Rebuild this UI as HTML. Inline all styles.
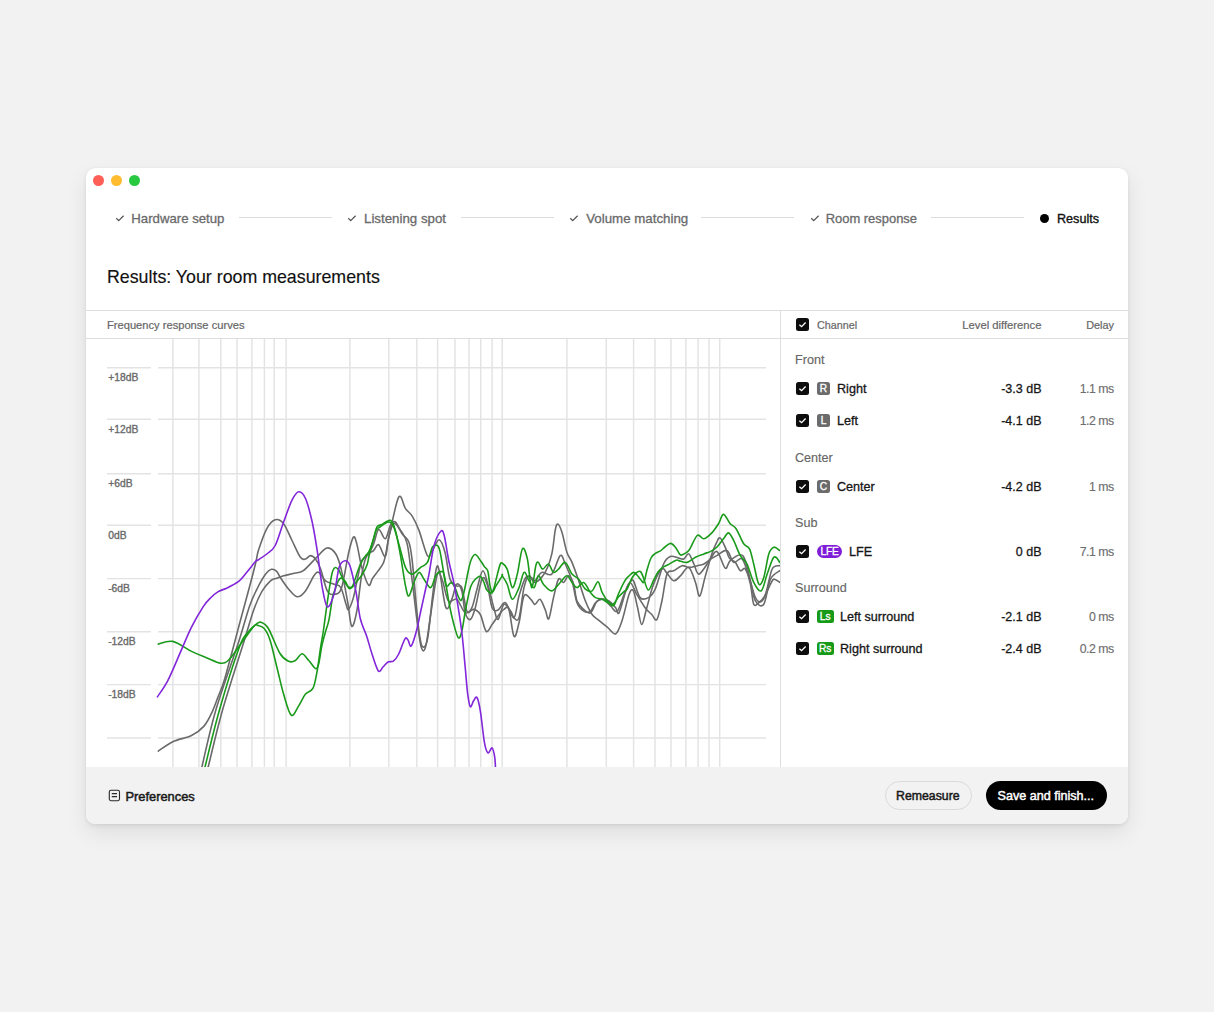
<!DOCTYPE html>
<html><head><meta charset="utf-8">
<style>
*{margin:0;padding:0;box-sizing:border-box}
html,body{width:1214px;height:1012px;overflow:hidden;background:#f2f2f2;font-family:"Liberation Sans",sans-serif;}
.abs{position:absolute}
#win{position:absolute;left:85.7px;top:167.6px;width:1042.4px;height:656.6px;background:#fff;border-radius:9px;box-shadow:0 9px 22px rgba(0,0,0,0.085),0 2px 4px rgba(0,0,0,0.07),0 0 1px rgba(0,0,0,0.10);overflow:hidden}
.tl{position:absolute;top:175px;width:11px;height:11px;border-radius:50%}
.step{position:absolute;top:210.5px;font-size:13.2px;color:#6a6a6b;white-space:nowrap;line-height:16px;-webkit-text-stroke:0.3px #6a6a6b}
.chk{position:absolute;top:214px;width:10px;height:9px}
.sline{position:absolute;top:216.5px;height:1px;background:#dcdcdc}
.t{position:absolute;white-space:nowrap}
.hl{position:absolute;height:1px;background:#dedede}
.vl{position:absolute;width:1px;background:#dedede}
.cb{position:absolute;width:13px;height:13px;background:#0d0d0d;border-radius:2.5px}
.cb svg{position:absolute;left:0;top:0}
.badge{position:absolute;height:13px;border-radius:2.5px;color:#fff;font-size:10.2px;font-weight:400;line-height:13.6px;text-align:center;-webkit-text-stroke:0.3px #fff}
.grp{position:absolute;left:795px;font-size:12.6px;color:#666;line-height:14px;margin-top:1.2px;-webkit-text-stroke:0.15px #666}
.name{position:absolute;font-size:12.6px;color:#161616;line-height:14px;margin-top:1px;-webkit-text-stroke:0.3px #161616}
.lvl{position:absolute;right:172.5px;font-size:12.5px;color:#161616;line-height:14px;text-align:right;font-weight:400;margin-top:1px;-webkit-text-stroke:0.28px #161616}
.dly{position:absolute;right:100.4px;font-size:12.3px;letter-spacing:-0.5px;color:#6e6e6e;line-height:14px;text-align:right;margin-top:0.6px;-webkit-text-stroke:0.15px #6e6e6e}
.ylab{position:absolute;left:107px;font-size:10.3px;color:#707070;line-height:12px}
</style></head>
<body>
<div id="win">
  <div class="abs" style="left:0;top:599px;width:1042px;height:57px;background:#f2f2f2"></div>
</div>
<div class="tl" style="left:92.5px;background:#ff5f57"></div>
<div class="tl" style="left:110.8px;background:#febc2e"></div>
<div class="tl" style="left:128.9px;background:#28c840"></div>

<!-- steps -->
<svg class="chk" style="left:115px" viewBox="0 0 10 9"><path d="M1.3 4.2 L3.7 6.6 L8.6 1.7" fill="none" stroke="#555" stroke-width="1.25"/></svg>
<div class="step" style="left:131.3px">Hardware setup</div>
<div class="sline" style="left:239px;width:93px"></div>
<svg class="chk" style="left:347px" viewBox="0 0 10 9"><path d="M1.3 4.2 L3.7 6.6 L8.6 1.7" fill="none" stroke="#555" stroke-width="1.25"/></svg>
<div class="step" style="left:364px;font-size:13.3px">Listening spot</div>
<div class="sline" style="left:461px;width:93px"></div>
<svg class="chk" style="left:569px" viewBox="0 0 10 9"><path d="M1.3 4.2 L3.7 6.6 L8.6 1.7" fill="none" stroke="#555" stroke-width="1.25"/></svg>
<div class="step" style="left:586.2px;font-size:13.3px">Volume matching</div>
<div class="sline" style="left:701px;width:93px"></div>
<svg class="chk" style="left:810px" viewBox="0 0 10 9"><path d="M1.3 4.2 L3.7 6.6 L8.6 1.7" fill="none" stroke="#555" stroke-width="1.25"/></svg>
<div class="step" style="left:825.7px;font-size:12.95px">Room response</div>
<div class="sline" style="left:931px;width:93px"></div>
<div class="abs" style="left:1039.6px;top:213.5px;width:9.4px;height:9.4px;border-radius:50%;background:#000"></div>
<div class="step" style="left:1057px;color:#111;font-size:12.6px;-webkit-text-stroke:0.35px #111">Results</div>

<!-- title -->
<div class="t" style="left:107px;top:266px;font-size:17.8px;color:#111;line-height:22px;-webkit-text-stroke:0.15px #111">Results: Your room measurements</div>

<!-- table header lines -->
<div class="hl" style="left:86px;top:310px;width:1042px"></div>
<div class="hl" style="left:86px;top:338px;width:1042px"></div>
<div class="vl" style="left:780px;top:311px;height:456px"></div>
<div class="t" style="left:107px;top:318px;font-size:11.15px;color:#666;line-height:14px;-webkit-text-stroke:0.2px #666">Frequency response curves</div>

<div class="cb" style="left:796px;top:318px"><svg width="13" height="13" viewBox="0 0 13 13"><path d="M3.4 6.7 L5.6 8.7 L9.6 4.5" fill="none" stroke="#fff" stroke-width="1.3"/></svg></div>
<div class="t" style="left:817px;top:318px;font-size:10.8px;color:#666;line-height:14px;-webkit-text-stroke:0.2px #666">Channel</div>
<div class="t" style="right:172.5px;top:318px;font-size:11.25px;color:#666;line-height:14px;-webkit-text-stroke:0.2px #666">Level difference</div>
<div class="t" style="right:100px;top:318px;font-size:10.9px;color:#666;line-height:14px;-webkit-text-stroke:0.2px #666">Delay</div>

<!-- channel list -->
<div class="grp" style="top:352px">Front</div>
<div class="cb" style="left:796px;top:382px"><svg width="13" height="13" viewBox="0 0 13 13"><path d="M3.4 6.7 L5.6 8.7 L9.6 4.5" fill="none" stroke="#fff" stroke-width="1.3"/></svg></div>
<div class="badge" style="left:817px;top:382px;width:13px;background:#6b6b6b">R</div>
<div class="name" style="left:837px;top:381px">Right</div>
<div class="lvl" style="top:381px">-3.3 dB</div>
<div class="dly" style="top:381px">1.1 ms</div>

<div class="cb" style="left:796px;top:414px"><svg width="13" height="13" viewBox="0 0 13 13"><path d="M3.4 6.7 L5.6 8.7 L9.6 4.5" fill="none" stroke="#fff" stroke-width="1.3"/></svg></div>
<div class="badge" style="left:817px;top:414px;width:13px;background:#6b6b6b">L</div>
<div class="name" style="left:837px;top:413px">Left</div>
<div class="lvl" style="top:413px">-4.1 dB</div>
<div class="dly" style="top:413px">1.2 ms</div>

<div class="grp" style="top:450px">Center</div>
<div class="cb" style="left:796px;top:480px"><svg width="13" height="13" viewBox="0 0 13 13"><path d="M3.4 6.7 L5.6 8.7 L9.6 4.5" fill="none" stroke="#fff" stroke-width="1.3"/></svg></div>
<div class="badge" style="left:817px;top:480px;width:13px;background:#6b6b6b">C</div>
<div class="name" style="left:837px;top:479px">Center</div>
<div class="lvl" style="top:479px">-4.2 dB</div>
<div class="dly" style="top:479px">1 ms</div>

<div class="grp" style="top:515px">Sub</div>
<div class="cb" style="left:796px;top:545px"><svg width="13" height="13" viewBox="0 0 13 13"><path d="M3.4 6.7 L5.6 8.7 L9.6 4.5" fill="none" stroke="#fff" stroke-width="1.3"/></svg></div>
<div class="badge" style="left:817px;top:545px;width:25px;border-radius:6.5px;background:#7f1cd8;letter-spacing:-0.2px">LFE</div>
<div class="name" style="left:849px;top:544px">LFE</div>
<div class="lvl" style="top:544px">0 dB</div>
<div class="dly" style="top:544px">7.1 ms</div>

<div class="grp" style="top:580px">Surround</div>
<div class="cb" style="left:796px;top:610px"><svg width="13" height="13" viewBox="0 0 13 13"><path d="M3.4 6.7 L5.6 8.7 L9.6 4.5" fill="none" stroke="#fff" stroke-width="1.3"/></svg></div>
<div class="badge" style="left:817px;top:610px;width:16.5px;background:#179a17">Ls</div>
<div class="name" style="left:840px;top:609px">Left surround</div>
<div class="lvl" style="top:609px">-2.1 dB</div>
<div class="dly" style="top:609px">0 ms</div>

<div class="cb" style="left:796px;top:642px"><svg width="13" height="13" viewBox="0 0 13 13"><path d="M3.4 6.7 L5.6 8.7 L9.6 4.5" fill="none" stroke="#fff" stroke-width="1.3"/></svg></div>
<div class="badge" style="left:817px;top:642px;width:16.5px;background:#179a17">Rs</div>
<div class="name" style="left:840px;top:641px">Right surround</div>
<div class="lvl" style="top:641px">-2.4 dB</div>
<div class="dly" style="top:641px">0.2 ms</div>

<!-- CHART -->
<svg class="abs" style="left:0;top:0" width="1214" height="1012" viewBox="0 0 1214 1012">
<defs><clipPath id="cc"><rect x="150" y="339" width="630" height="428"/></clipPath></defs><g id="grid" stroke="#e3e3e3" stroke-width="1.45" fill="none"><path d="M172.9 339V767"/><path d="M198.9 339V767"/><path d="M220.8 339V767"/><path d="M237.0 339V767"/><path d="M251.9 339V767"/><path d="M264.4 339V767"/><path d="M274.2 339V767"/><path d="M286.1 339V767"/><path d="M349.9 339V767"/><path d="M388.8 339V767"/><path d="M416.8 339V767"/><path d="M437.6 339V767"/><path d="M455.0 339V767"/><path d="M469.0 339V767"/><path d="M480.7 339V767"/><path d="M492.1 339V767"/><path d="M502.2 339V767"/><path d="M566.9 339V767"/><path d="M606.3 339V767"/><path d="M633.6 339V767"/><path d="M655.0 339V767"/><path d="M671.0 339V767"/><path d="M685.9 339V767"/><path d="M698.1 339V767"/><path d="M709.0 339V767"/><path d="M719.7 339V767"/><path d="M107 367.8H151M158 367.8H766"/><path d="M107 419.2H151M158 419.2H766"/><path d="M107 473.8H151M158 473.8H766"/><path d="M107 525.3H151M158 525.3H766"/><path d="M107 578.6H151M158 578.6H766"/><path d="M107 631.8H151M158 631.8H766"/><path d="M107 684.6H151M158 684.6H766"/><path d="M107 737.9H151M158 737.9H766"/></g><text x="108.2" y="381.3" font-size="10.3" fill="#6a6a6a" stroke="#6a6a6a" stroke-width="0.35" font-family="Liberation Sans">+18dB</text><text x="108.2" y="432.7" font-size="10.3" fill="#6a6a6a" stroke="#6a6a6a" stroke-width="0.35" font-family="Liberation Sans">+12dB</text><text x="108.2" y="487.3" font-size="10.3" fill="#6a6a6a" stroke="#6a6a6a" stroke-width="0.35" font-family="Liberation Sans">+6dB</text><text x="108.2" y="538.8" font-size="10.3" fill="#6a6a6a" stroke="#6a6a6a" stroke-width="0.35" font-family="Liberation Sans">0dB</text><text x="108.2" y="592.1" font-size="10.3" fill="#6a6a6a" stroke="#6a6a6a" stroke-width="0.35" font-family="Liberation Sans">-6dB</text><text x="108.2" y="645.3" font-size="10.3" fill="#6a6a6a" stroke="#6a6a6a" stroke-width="0.35" font-family="Liberation Sans">-12dB</text><text x="108.2" y="698.1" font-size="10.3" fill="#6a6a6a" stroke="#6a6a6a" stroke-width="0.35" font-family="Liberation Sans">-18dB</text>
<g id="curves" fill="none" stroke-width="1.6" stroke-linejoin="round" stroke-linecap="round" clip-path="url(#cc)"><path d="M208.2 767.0C210.6 757.4 216.8 730.1 222.7 709.5C228.6 688.9 238.3 659.7 243.5 643.1C248.7 626.5 250.7 618.4 253.8 609.8C256.9 601.1 259.3 596.0 262.1 591.2C264.9 586.4 268.1 582.9 270.5 580.8C272.9 578.6 274.5 579.1 276.7 578.3C278.9 577.5 280.7 576.6 283.6 575.8C286.6 575.0 291.1 574.2 294.4 573.3C297.7 572.4 299.8 573.2 303.4 570.6C307.0 568.0 312.2 561.7 316.1 557.9C320.0 554.1 323.7 548.6 327.0 548.0C330.3 547.4 333.6 550.5 336.0 554.3C338.4 558.1 339.6 562.8 341.5 570.6C343.4 578.4 345.8 591.7 347.5 601.0C349.2 610.3 350.1 624.5 351.7 626.2C353.2 627.9 355.1 619.8 356.8 611.1C358.5 602.4 360.1 583.4 361.8 574.1C363.5 564.9 364.8 559.5 366.8 555.6C368.8 551.7 371.6 552.4 373.6 550.6C375.6 548.8 376.7 543.7 378.6 544.7C380.6 545.7 383.6 557.8 385.3 556.5C387.0 555.2 387.3 542.6 388.7 537.1C390.1 531.6 391.7 524.8 393.7 523.7C395.7 522.6 398.2 527.0 400.5 530.4C402.8 533.8 405.2 535.5 407.2 543.9C409.1 552.3 410.5 567.6 412.2 580.8C413.9 594.0 415.8 611.7 417.3 622.9C418.9 634.1 420.1 644.2 421.5 648.1C422.9 652.0 424.2 652.0 425.7 646.4C427.2 640.8 428.8 626.5 430.7 614.5C432.6 602.5 435.4 579.7 437.4 574.1C439.4 568.5 440.7 576.3 442.5 580.8C444.3 585.3 446.0 597.9 448.4 601.0C450.8 604.1 454.0 597.3 456.8 599.3C459.6 601.3 462.4 611.1 465.2 612.8C468.0 614.5 471.1 609.1 473.6 609.4C476.1 609.7 478.2 610.9 480.3 614.5C482.4 618.1 484.2 629.6 486.2 631.3C488.2 633.0 490.1 627.0 492.1 624.5C494.1 622.0 496.0 618.6 498.0 616.1C500.0 613.6 502.1 610.5 503.9 609.4C505.7 608.3 507.2 604.9 508.9 609.4C510.6 613.9 512.3 634.0 514.0 636.3C515.7 638.5 517.3 629.6 519.0 622.9C520.7 616.2 522.0 599.9 524.0 596.0C526.0 592.1 529.0 597.9 530.8 599.3C532.6 600.7 533.5 604.4 535.0 604.4C536.5 604.4 538.3 598.5 540.0 599.3C541.7 600.1 543.6 606.2 545.1 609.4C546.6 612.6 547.4 620.7 548.8 618.7C550.2 616.7 551.9 604.2 553.5 597.6C555.1 591.0 556.8 581.7 558.5 579.2C560.2 576.7 561.9 583.1 563.6 582.5C565.3 581.9 566.9 575.5 568.6 575.8C570.3 576.1 572.3 580.0 573.7 584.2C575.1 588.4 575.3 596.8 577.0 601.0C578.7 605.2 581.5 607.4 583.7 609.4C586.0 611.4 588.2 614.2 590.5 612.8C592.8 611.4 595.0 603.2 597.2 601.0C599.4 598.8 601.7 598.5 603.9 599.3C606.1 600.1 608.4 604.0 610.6 606.0C612.9 608.0 615.1 613.1 617.4 611.1C619.6 609.1 622.0 599.1 624.1 594.3C626.2 589.5 627.9 582.5 630.0 582.5C632.1 582.5 634.2 590.1 636.7 594.3C639.2 598.5 642.6 604.3 645.1 607.7C647.6 611.1 649.8 612.5 651.8 614.5C653.8 616.5 655.2 621.8 656.9 619.5C658.6 617.2 660.2 608.6 661.9 601.0C663.6 593.4 665.0 579.1 667.0 574.1C669.0 569.1 671.2 572.2 673.7 570.8C676.2 569.4 679.6 566.3 682.1 565.7C684.6 565.1 686.3 567.4 688.8 567.4C691.3 567.4 694.7 566.3 697.2 565.7C699.7 565.1 701.6 565.1 703.9 564.0C706.1 562.9 708.6 560.4 710.7 559.0C712.9 557.6 714.1 557.0 716.8 555.6C719.5 554.2 724.1 549.4 726.9 550.5C729.7 551.6 731.1 560.9 733.6 562.3C736.1 563.7 739.5 556.7 742.0 558.9C744.5 561.1 746.5 569.3 748.7 575.7C750.9 582.1 753.2 593.3 755.4 597.5C757.6 601.7 759.6 603.1 762.1 600.9C764.6 598.7 768.5 587.7 770.5 584.1C772.5 580.5 772.4 579.4 773.9 579.1C775.4 578.8 778.8 581.9 779.8 582.4" stroke="#6a6a6a"/><path d="M201.9 767.0C204.2 757.4 209.9 730.1 216.0 709.5C222.1 688.9 232.7 660.4 238.3 643.1C243.9 625.8 246.4 615.1 249.7 605.7C253.0 596.4 255.4 592.2 258.0 587.0C260.6 581.8 263.1 577.5 265.3 574.5C267.6 571.5 269.6 569.8 271.5 569.3C273.4 568.8 275.2 570.0 276.7 571.4C278.2 572.8 278.3 574.5 280.3 577.5C282.3 580.5 285.9 586.0 288.7 589.2C291.5 592.4 294.3 596.5 297.1 596.8C299.9 597.1 302.7 594.4 305.5 590.9C308.3 587.4 311.7 578.9 313.9 575.8C316.1 572.7 316.9 571.6 318.9 572.4C320.8 573.2 323.1 578.8 325.6 580.8C328.1 582.8 331.5 583.1 334.0 584.2C336.5 585.3 338.8 584.3 340.8 587.6C342.8 590.9 344.7 600.4 346.0 604.0C347.3 607.6 347.2 610.5 348.4 609.4C349.6 608.3 351.7 603.5 353.4 597.6C355.1 591.7 357.0 580.2 358.4 574.1C359.8 568.0 360.1 564.1 361.8 560.7C363.5 557.4 366.5 556.8 368.5 554.0C370.5 551.2 371.9 548.0 373.6 543.9C375.3 539.8 376.7 530.5 378.6 529.6C380.6 528.8 383.3 539.5 385.3 538.8C387.3 538.1 388.7 528.2 390.4 525.4C392.1 522.6 393.4 520.6 395.4 522.0C397.3 523.4 399.9 530.4 402.1 533.8C404.4 537.2 407.2 537.7 408.9 542.2C410.6 546.7 411.1 551.5 412.2 560.7C413.3 569.9 414.5 585.8 415.6 597.6C416.7 609.4 417.9 623.2 419.0 631.3C420.1 639.4 420.9 645.0 422.3 646.4C423.7 647.8 425.7 647.8 427.4 639.7C429.1 631.6 430.9 609.7 432.4 597.6C433.9 585.5 435.3 571.3 436.6 567.4C437.9 563.5 438.4 567.4 440.0 574.1C441.6 580.8 443.9 603.5 445.9 607.7C447.9 611.9 450.0 603.2 451.8 599.3C453.6 595.4 455.1 585.6 456.8 584.2C458.5 582.8 460.4 586.1 461.8 590.9C463.2 595.7 463.8 608.0 465.2 612.8C466.6 617.6 468.6 620.4 470.3 619.5C472.0 618.6 473.4 614.4 475.3 607.7C477.2 601.0 480.0 583.1 482.0 579.2C484.0 575.3 485.4 579.5 487.1 584.2C488.8 589.0 490.3 603.4 492.1 607.7C493.9 612.0 495.8 610.8 498.0 610.0C500.2 609.2 502.8 601.4 505.5 602.7C508.2 604.0 511.8 618.9 514.0 617.8C516.2 616.7 517.0 602.7 519.0 596.0C521.0 589.3 523.5 580.5 525.7 577.5C527.9 574.5 530.5 577.5 532.0 578.0C533.5 578.5 533.4 581.7 535.0 580.8C536.6 579.9 538.9 573.5 541.7 572.4C544.5 571.3 548.7 576.9 551.8 574.1C554.9 571.3 558.0 557.3 560.2 555.6C562.5 553.9 563.3 559.8 565.3 564.0C567.3 568.2 570.0 574.3 572.0 580.8C574.0 587.2 575.0 597.7 577.0 602.7C579.0 607.8 581.5 609.7 583.7 611.1C586.0 612.5 588.5 612.5 590.5 611.1C592.5 609.7 593.5 604.7 595.5 602.7C597.5 600.7 600.0 599.6 602.2 599.3C604.5 599.0 606.8 599.6 609.0 601.0C611.2 602.4 614.0 605.7 615.7 607.7C617.4 609.7 617.3 615.6 619.0 612.8C620.7 610.0 624.0 595.9 625.8 590.9C627.6 585.9 628.7 584.2 630.0 582.5C631.3 580.8 631.7 578.3 633.4 580.8C635.1 583.3 637.6 594.8 640.1 597.6C642.6 600.4 646.0 599.0 648.5 597.6C651.0 596.2 652.7 594.8 655.2 589.2C657.7 583.6 661.1 569.5 663.6 564.0C666.1 558.5 667.8 557.5 670.3 556.5C672.8 555.5 676.5 557.7 678.7 558.1C681.0 558.5 682.1 559.7 683.8 559.0C685.5 558.3 687.1 553.1 688.8 553.9C690.5 554.7 692.2 560.6 693.9 564.0C695.6 567.4 696.5 574.4 698.9 574.1C701.3 573.8 705.4 566.1 708.4 562.3C711.4 558.5 714.0 550.4 716.8 551.4C719.6 552.4 723.0 566.6 725.2 568.1C727.4 569.6 727.7 562.8 730.2 560.6C732.7 558.4 737.8 554.7 740.3 554.7C742.8 554.7 743.6 556.3 745.3 560.6C747.0 564.9 748.7 574.0 750.4 580.7C752.1 587.4 753.2 597.0 755.4 600.9C757.6 604.8 761.3 607.8 763.8 604.2C766.3 600.6 767.8 584.7 770.5 579.1C773.2 573.5 778.2 572.1 779.8 570.7" stroke="#6a6a6a"/><path d="M158.3 751.1C160.7 749.5 167.3 744.3 172.8 741.7C178.3 739.1 186.3 738.1 191.5 735.5C196.7 732.9 200.5 730.1 204.0 726.1C207.5 722.1 210.0 716.5 212.3 711.6C214.6 706.8 215.9 702.5 218.0 697.0C220.1 691.5 221.1 690.9 224.8 678.4C228.5 665.9 235.8 637.6 240.0 622.0C244.2 606.4 247.3 595.0 250.0 585.0C252.7 575.0 254.5 567.7 255.9 562.0C257.3 556.3 256.6 556.1 258.4 550.6C260.2 545.1 264.0 533.8 266.8 528.7C269.6 523.6 272.4 520.6 275.2 519.8C278.0 519.0 280.8 520.2 283.6 523.7C286.4 527.2 289.2 534.9 292.0 540.5C294.8 546.1 298.1 554.2 300.4 557.3C302.6 560.4 303.8 559.3 305.5 559.0C307.2 558.7 308.8 555.6 310.5 555.6C312.2 555.6 313.8 556.8 315.5 559.0C317.2 561.2 318.6 563.7 320.6 569.0C322.6 574.3 325.1 586.7 327.3 590.9C329.5 595.1 331.6 594.8 334.0 594.3C336.4 593.8 339.1 595.0 341.5 588.0C343.9 581.0 346.7 561.0 348.7 552.5C350.7 544.0 352.0 538.5 353.4 537.1C354.8 535.7 355.4 538.9 356.8 543.9C358.2 548.9 359.9 560.5 361.8 567.4C363.8 574.2 366.7 583.1 368.5 585.0C370.3 586.9 370.9 580.9 372.4 578.6C373.9 576.3 375.8 574.1 377.7 571.4C379.6 568.7 382.1 566.1 383.6 562.5C385.1 558.9 385.4 555.1 386.5 550.0C387.6 544.9 387.9 540.8 390.0 532.0C392.1 523.2 396.2 500.9 398.8 497.0C401.4 493.1 403.3 505.4 405.5 508.6C407.7 511.8 409.9 512.5 412.2 516.1C414.4 519.7 416.5 523.8 419.0 530.4C421.5 537.0 425.2 552.2 427.4 555.6C429.6 559.0 430.4 553.2 432.4 550.6C434.3 548.0 437.0 539.4 439.1 539.7C441.2 540.0 443.2 545.7 445.0 552.3C446.8 558.9 448.1 573.6 450.1 579.2C452.1 584.8 454.9 584.5 456.8 585.9C458.8 587.3 460.1 583.4 461.8 587.6C463.5 591.8 465.2 607.8 466.9 611.1C468.6 614.5 470.2 611.4 471.9 607.7C473.6 604.1 475.2 595.4 477.0 589.2C478.8 583.1 480.9 571.1 482.9 570.8C484.8 570.5 486.9 581.5 488.7 587.6C490.5 593.8 492.2 602.4 493.8 607.7C495.4 613.0 496.3 620.0 498.0 619.5C499.7 619.0 501.8 605.8 503.9 604.4C506.0 603.0 508.9 608.9 510.6 611.1C512.3 613.3 512.6 616.7 514.0 617.8C515.4 618.9 517.3 622.8 519.0 617.8C520.7 612.8 522.3 594.6 524.0 587.6C525.7 580.6 527.3 576.6 529.1 575.8C530.9 574.9 532.3 583.1 535.0 582.5C537.7 581.9 542.3 577.2 545.1 572.4C547.9 567.6 550.1 560.9 551.8 553.9C553.5 546.9 554.2 535.4 555.2 530.4C556.2 525.4 556.6 523.7 557.7 524.0C558.8 524.3 560.4 527.4 561.9 532.1C563.4 536.8 565.2 547.2 566.9 552.3C568.6 557.3 570.0 557.6 572.0 562.4C574.0 567.1 576.5 574.4 578.7 580.8C580.9 587.2 583.2 595.4 585.4 601.0C587.6 606.6 589.9 611.3 592.1 614.5C594.4 617.7 596.4 618.2 598.9 620.3C601.4 622.4 604.5 624.9 607.3 627.1C610.1 629.4 613.2 635.1 615.7 633.8C618.2 632.5 620.2 626.1 622.4 619.5C624.6 612.9 627.3 599.1 629.1 594.3C630.9 589.5 632.0 588.7 633.4 590.9C634.8 593.1 636.2 602.1 637.6 607.7C639.0 613.3 640.3 624.5 641.8 624.5C643.3 624.5 644.8 614.4 646.8 607.7C648.8 601.0 651.0 590.6 653.5 584.2C656.0 577.8 659.6 570.9 661.9 569.1C664.1 567.3 665.0 571.3 667.0 573.3C669.0 575.2 671.5 580.4 673.7 580.8C675.9 581.2 677.9 578.0 680.4 575.8C682.9 573.6 686.3 566.3 688.8 567.4C691.3 568.5 693.7 577.7 695.5 582.5C697.3 587.3 698.1 596.9 699.7 596.0C701.3 595.1 703.0 584.4 705.0 577.4C707.0 570.4 709.8 559.8 711.8 553.9C713.8 548.0 715.4 544.8 716.8 542.1C718.2 539.4 718.7 537.0 720.1 537.9C721.5 538.8 723.7 543.8 725.2 547.2C726.8 550.6 727.7 555.6 729.4 558.1C731.1 560.6 733.5 560.2 735.3 562.3C737.1 564.4 738.6 569.6 740.3 570.7C742.0 571.8 743.6 566.8 745.3 569.0C747.0 571.2 749.0 578.2 750.4 584.1C751.8 590.0 752.3 601.1 753.7 604.2C755.1 607.3 756.8 604.3 758.8 602.6C760.8 600.9 763.3 599.8 765.5 594.2C767.7 588.6 769.8 573.8 772.2 569.0C774.6 564.2 778.5 566.2 779.8 565.6" stroke="#6a6a6a"/><path d="M158.3 644.1C160.7 643.6 167.3 640.2 172.8 641.4C178.3 642.6 185.8 648.6 191.5 651.4C197.2 654.2 202.2 656.0 207.0 658.0C211.8 660.0 216.9 662.9 220.6 663.2C224.2 663.5 225.4 663.1 228.9 659.7C232.4 656.4 237.2 648.6 241.4 643.1C245.6 637.6 251.0 629.5 253.8 626.5C256.6 623.5 256.3 625.1 258.0 625.4C259.7 625.7 262.2 626.1 264.2 628.5C266.2 630.9 267.9 633.5 270.0 640.0C272.1 646.5 274.6 658.2 276.9 667.2C279.2 676.2 281.2 686.1 283.6 694.1C286.0 702.1 288.7 713.1 291.2 715.1C293.7 717.1 296.3 709.4 298.7 705.9C301.1 702.4 303.1 697.0 305.5 694.1C307.9 691.2 311.1 692.1 313.0 688.2C314.9 684.3 315.9 677.8 317.2 670.6C318.5 663.4 319.9 651.8 321.0 645.0C322.1 638.2 322.9 634.2 323.5 630.0C324.1 625.8 324.1 625.6 324.9 619.7C325.7 613.8 327.2 602.5 328.4 594.8C329.6 587.1 330.9 578.0 332.0 573.5C333.1 569.0 333.9 568.2 335.0 567.6C336.1 567.0 337.6 568.5 338.6 569.7C339.6 570.9 340.2 573.3 341.0 575.0C341.8 576.7 342.7 578.5 343.5 580.0C344.3 581.5 345.2 582.8 346.0 584.0C346.8 585.2 347.7 586.4 348.5 587.0C349.3 587.6 350.2 587.7 351.0 587.4C351.8 587.1 352.2 586.6 353.0 585.0C353.8 583.4 354.6 580.7 355.5 578.0C356.4 575.3 357.4 571.8 358.5 569.0C359.6 566.2 360.7 563.4 362.0 561.0C363.3 558.6 365.2 556.5 366.4 554.8C367.6 553.1 368.2 553.3 369.4 550.7C370.6 548.1 372.2 543.0 373.5 539.0C374.8 535.0 375.6 529.4 377.0 527.0C378.4 524.6 379.8 525.6 382.0 524.5C384.2 523.4 388.2 519.3 390.4 520.3C392.6 521.3 393.7 524.5 395.4 530.4C397.1 536.3 398.8 546.4 400.5 555.6C402.2 564.9 404.1 579.2 405.5 585.9C406.9 592.6 407.5 596.6 408.9 596.0C410.3 595.4 412.2 586.4 413.9 582.5C415.6 578.6 417.3 572.9 419.0 572.4C420.7 571.9 422.1 576.7 424.0 579.2C425.9 581.7 428.7 588.2 430.7 587.6C432.7 587.0 434.1 578.5 435.8 575.8C437.5 573.1 439.4 571.7 440.8 571.6C442.2 571.5 442.8 569.8 444.2 575.3C445.6 580.8 447.8 596.4 449.3 604.4C450.9 612.4 452.0 617.5 453.5 623.0C455.0 628.5 456.8 636.2 458.2 637.6C459.6 639.0 460.5 636.4 461.8 631.4C463.1 626.4 464.4 615.1 466.0 607.5C467.6 599.9 468.9 590.9 471.1 585.7C473.3 580.5 477.3 577.0 479.4 576.3C481.5 575.6 482.4 579.2 483.6 581.5C484.8 583.8 485.3 587.9 486.7 589.8C488.1 591.7 490.3 593.6 491.9 592.9C493.5 592.2 494.4 588.6 496.1 585.7C497.8 582.9 501.2 577.4 502.2 575.8C503.2 574.1 501.4 574.4 502.2 575.8C503.0 577.2 505.5 580.3 507.2 584.2C508.9 588.1 510.3 598.7 512.3 599.3C514.3 599.9 517.0 592.1 519.0 587.6C521.0 583.1 522.3 573.5 524.0 572.4C525.7 571.3 527.4 578.3 529.1 580.8C530.8 583.3 532.6 588.4 534.1 587.6C535.6 586.8 536.9 576.4 538.4 575.8C539.9 575.2 541.2 581.7 543.4 584.2C545.6 586.7 549.0 591.2 551.8 590.9C554.6 590.6 557.7 585.0 560.2 582.5C562.7 580.0 564.9 575.8 566.9 575.8C568.9 575.8 570.3 580.5 572.0 582.5C573.7 584.5 575.0 587.6 577.0 587.6C579.0 587.6 581.5 581.7 583.7 582.5C586.0 583.3 588.5 590.1 590.5 592.6C592.5 595.1 593.5 596.5 595.5 597.6C597.5 598.7 599.4 598.2 602.2 599.3C605.0 600.4 609.6 604.8 612.3 604.4C615.0 604.0 616.5 599.1 618.4 597.0C620.3 594.9 622.1 593.3 623.5 592.0C624.9 590.7 625.6 591.3 627.0 589.0C628.4 586.7 630.5 580.7 632.0 578.0C633.5 575.3 634.6 574.1 636.0 573.0C637.4 571.9 639.1 570.8 640.3 571.5C641.5 572.2 641.9 573.9 643.2 577.0C644.5 580.1 646.5 589.5 648.2 590.0C650.0 590.5 652.1 583.0 653.7 580.0C655.3 577.0 656.6 574.0 658.0 572.0C659.4 570.0 660.2 569.1 662.0 567.8C663.8 566.5 666.4 565.7 668.8 564.4C671.2 563.1 674.3 560.8 676.2 560.2C678.1 559.6 678.2 560.6 680.0 561.0C681.8 561.4 684.5 563.0 687.1 562.4C689.7 561.8 692.7 558.7 695.5 557.3C698.3 555.9 701.4 554.9 703.9 553.9C706.4 552.9 708.6 552.5 710.7 551.4C712.9 550.3 714.7 549.3 716.8 547.2C718.9 545.1 721.5 541.2 723.5 538.8C725.5 536.4 726.8 532.6 728.5 532.9C730.2 533.2 731.6 536.6 733.6 540.4C735.6 544.2 738.1 551.7 740.3 555.6C742.5 559.5 744.8 559.5 747.0 564.0C749.2 568.5 751.3 577.9 753.7 582.4C756.1 586.9 759.0 592.2 761.3 590.8C763.5 589.4 765.1 579.6 767.2 574.0C769.3 568.4 771.8 559.2 773.9 557.2C776.0 555.2 778.8 561.4 779.8 562.3" stroke="#1a9a1a"/><path d="M205.0 767.0C207.4 757.4 213.9 729.5 219.6 709.5C225.3 689.5 234.6 660.0 239.3 647.2C244.0 634.4 244.8 636.5 247.6 632.7C250.4 628.9 253.7 626.1 255.9 624.4C258.2 622.7 259.0 621.6 261.1 622.3C263.2 623.0 265.2 623.3 268.4 628.5C271.5 633.7 276.6 648.0 280.0 653.5C283.4 659.0 286.1 660.1 288.7 661.3C291.3 662.5 293.2 661.8 295.4 660.5C297.6 659.2 299.9 653.8 302.1 653.8C304.3 653.8 306.3 658.1 308.8 660.5C311.3 662.9 315.0 670.7 317.2 668.1C319.4 665.5 320.5 651.4 322.0 645.0C323.5 638.6 324.8 634.2 326.0 630.0C327.2 625.8 327.9 625.2 329.0 619.7C330.1 614.2 331.6 602.2 332.6 597.2C333.6 592.2 334.2 592.2 335.0 589.8C335.8 587.4 336.5 584.6 337.4 582.7C338.3 580.8 339.3 578.9 340.3 578.3C341.3 577.7 342.4 578.5 343.3 579.1C344.2 579.7 345.0 580.9 345.7 582.0C346.4 583.1 346.9 584.9 347.5 586.0C348.1 587.1 348.8 588.4 349.5 588.6C350.2 588.8 351.1 588.2 352.0 587.4C352.9 586.5 354.0 584.7 355.0 583.5C356.0 582.3 356.8 581.5 358.0 580.0C359.2 578.5 360.8 576.9 362.3 574.4C363.8 571.9 365.9 568.0 367.0 564.9C368.1 561.8 368.2 559.3 369.0 556.0C369.8 552.7 370.7 549.5 371.8 545.3C372.9 541.1 374.5 534.0 375.9 531.0C377.3 528.0 377.9 528.5 380.0 527.0C382.1 525.5 386.4 522.0 388.7 522.0C391.0 522.0 392.0 523.5 393.7 527.1C395.4 530.8 396.8 537.2 398.8 543.9C400.8 550.6 403.3 562.4 405.5 567.4C407.7 572.4 409.7 574.1 412.2 574.1C414.7 574.1 418.1 569.4 420.6 567.4C423.1 565.4 425.4 565.8 427.4 562.4C429.4 559.0 430.7 550.0 432.4 547.2C434.1 544.4 436.1 544.8 437.4 545.5C438.7 546.2 439.1 547.5 440.0 551.4C440.9 555.3 442.1 563.4 443.1 569.1C444.1 574.8 445.0 583.4 446.2 585.7C447.4 588.0 449.3 583.3 450.4 583.0C451.5 582.7 452.1 582.8 453.0 584.0C453.9 585.2 455.1 587.8 456.0 590.0C456.9 592.2 457.6 595.3 458.5 597.0C459.4 598.7 460.3 601.4 461.3 600.2C462.3 599.0 463.4 594.7 464.5 590.0C465.6 585.3 466.9 577.0 468.0 572.0C469.1 567.0 469.9 562.9 471.1 560.0C472.3 557.1 473.7 554.4 475.3 554.5C476.9 554.6 478.9 558.6 480.5 560.7C482.1 562.8 483.4 565.2 484.6 566.9C485.8 568.6 486.9 568.1 487.8 571.1C488.7 574.1 489.1 581.1 489.8 584.6C490.5 588.1 491.2 591.3 491.9 591.9C492.6 592.5 493.3 590.1 494.0 588.0C494.7 585.9 495.1 583.2 496.1 579.4C497.1 575.5 499.0 567.6 500.0 564.9C501.0 562.2 501.0 562.5 502.2 563.2C503.4 563.9 505.5 565.0 507.2 569.1C508.9 573.2 510.6 586.8 512.3 587.6C514.0 588.4 515.6 580.6 517.3 574.1C519.0 567.6 520.7 551.4 522.4 548.9C524.1 546.4 525.9 552.5 527.4 559.0C528.9 565.5 530.2 586.5 531.6 587.6C533.0 588.7 534.7 569.9 535.8 565.7C536.9 561.5 537.3 561.8 538.4 562.4C539.5 563.0 540.9 568.8 542.6 569.1C544.3 569.4 546.6 563.5 548.4 564.0C550.2 564.5 551.8 571.5 553.5 572.4C555.2 573.2 556.5 570.8 558.5 569.1C560.5 567.4 563.0 561.6 565.3 562.4C567.5 563.2 569.8 571.3 572.0 574.1C574.2 576.9 576.5 576.7 578.7 579.2C580.9 581.7 583.2 587.2 585.4 589.2C587.6 591.2 590.0 592.1 592.1 590.9C594.2 589.6 596.3 581.4 598.0 581.7C599.7 582.0 600.4 589.1 602.2 592.6C604.0 596.1 607.0 600.6 609.0 602.7C611.0 604.8 612.4 606.7 614.0 605.2C615.6 603.8 616.5 598.1 618.4 594.0C620.2 589.9 623.3 583.3 625.1 580.3C626.9 577.3 627.6 577.3 629.0 576.0C630.4 574.7 632.2 572.6 633.5 572.4C634.8 572.2 635.8 573.7 637.0 575.0C638.2 576.3 639.8 578.8 641.0 580.0C642.2 581.2 643.0 583.7 644.0 582.0C645.0 580.3 645.8 574.0 647.0 570.0C648.2 566.0 649.6 560.8 651.0 558.0C652.4 555.2 653.8 554.6 655.4 553.4C657.0 552.2 658.8 552.0 660.4 550.9C662.0 549.8 663.3 548.2 665.0 547.0C666.7 545.8 668.8 543.4 670.5 543.4C672.2 543.4 673.9 545.4 675.4 547.2C676.9 549.0 678.6 553.0 679.7 554.3C680.8 555.6 680.6 555.4 682.1 554.8C683.6 554.2 686.3 553.8 688.8 550.6C691.3 547.4 694.7 537.5 697.2 535.5C699.7 533.5 701.5 539.2 703.9 538.8C706.3 538.4 709.4 535.4 711.8 532.9C714.2 530.4 716.5 526.8 718.5 523.7C720.5 520.6 721.5 514.4 723.5 514.4C725.5 514.4 728.1 521.3 730.2 523.7C732.3 526.1 733.9 525.4 736.1 528.7C738.4 532.1 741.5 540.4 743.7 543.8C745.9 547.1 747.8 545.4 749.5 548.8C751.2 552.2 752.2 558.1 753.7 564.0C755.2 569.9 757.1 581.9 758.8 584.1C760.5 586.3 762.1 582.4 763.8 577.4C765.5 572.4 767.1 558.9 768.8 553.9C770.5 548.9 772.1 547.8 773.9 547.2C775.7 546.6 778.8 550.0 779.8 550.5" stroke="#1a9a1a"/><path d="M157.4 696.9C159.1 694.2 164.1 687.8 167.8 680.6C171.5 673.4 175.8 662.8 179.7 653.9C183.6 645.0 187.6 635.1 191.5 627.2C195.4 619.3 200.2 611.4 203.4 606.4C206.7 601.4 208.5 600.0 211.0 597.5C213.5 595.0 215.7 593.1 218.2 591.6C220.7 590.1 224.2 589.3 226.0 588.5C227.8 587.7 226.8 588.3 229.0 587.0C231.2 585.7 236.3 583.3 239.3 580.8C242.3 578.3 244.2 575.3 247.0 572.0C249.8 568.7 254.1 563.0 255.9 561.0C257.7 559.0 256.2 561.2 258.0 560.0C259.8 558.8 263.9 556.4 266.8 554.0C269.7 551.6 272.4 550.8 275.2 545.5C278.0 540.2 280.8 529.5 283.6 522.0C286.4 514.5 289.5 505.2 292.0 500.2C294.5 495.2 296.4 492.1 298.7 491.8C300.9 491.5 303.2 493.5 305.5 498.5C307.8 503.5 310.2 513.3 312.2 522.0C314.1 530.7 315.5 539.7 317.2 550.6C318.9 561.5 320.6 578.2 322.3 587.6C324.0 597.0 325.4 605.8 327.3 606.9C329.2 608.0 332.0 600.9 334.0 594.3C336.0 587.7 337.3 573.0 339.1 567.4C340.9 561.8 343.2 560.9 345.0 560.7C346.8 560.5 348.2 560.8 350.0 566.0C351.8 571.2 354.3 583.0 356.0 591.8C357.7 600.6 358.6 611.6 360.4 619.0C362.2 626.4 364.8 630.4 366.7 636.2C368.6 642.0 370.1 648.2 372.0 654.0C373.9 659.8 376.5 668.7 378.3 670.9C380.1 673.1 381.4 668.5 383.0 667.0C384.6 665.5 386.3 663.0 388.0 662.0C389.7 661.0 391.6 662.4 393.4 661.1C395.2 659.8 396.8 657.7 398.7 654.0C400.6 650.3 403.4 641.2 405.0 638.9C406.6 636.6 407.0 638.8 408.0 640.0C409.0 641.2 409.8 647.5 411.2 646.0C412.6 644.5 414.9 636.8 416.5 630.8C418.1 624.8 419.5 616.8 421.0 610.0C422.5 603.2 424.1 596.0 425.4 590.0C426.7 584.0 427.6 581.5 429.0 574.1C430.4 566.7 432.1 552.6 434.1 545.5C436.1 538.4 439.1 533.0 440.8 531.3C442.5 529.6 442.9 530.9 444.2 535.5C445.5 540.1 446.9 551.5 448.4 559.0C449.9 566.5 452.0 574.1 453.4 580.8C454.8 587.5 455.4 590.5 456.8 599.0C458.2 607.5 460.4 620.6 461.8 632.0C463.2 643.4 464.2 656.9 465.2 667.2C466.2 677.6 466.8 687.5 467.7 694.1C468.6 700.7 469.3 705.6 470.3 706.7C471.3 707.8 472.5 702.3 473.6 700.8C474.7 699.3 475.9 695.8 477.0 697.5C478.1 699.2 479.1 703.3 480.3 710.9C481.6 718.5 483.2 735.9 484.5 742.9C485.8 749.9 486.6 752.1 487.9 752.9C489.2 753.7 491.0 747.3 492.1 747.9C493.2 748.5 494.0 752.9 494.6 756.3C495.2 759.6 495.4 766.0 495.5 768.0" stroke="#8226da"/></g>
</svg>

<!-- footer -->
<svg class="abs" style="left:108px;top:789px" width="13" height="13" viewBox="0 0 13 13"><rect x="1.3" y="1.3" width="10.2" height="10.4" rx="1.6" fill="none" stroke="#2a2a2a" stroke-width="1.1"/><path d="M3.8 4.6 H9 M3.8 7.6 H9" stroke="#2a2a2a" stroke-width="1.1"/></svg>
<div class="t" style="left:125.5px;top:788.5px;font-size:12.85px;color:#1a1a1a;font-weight:400;line-height:15px;-webkit-text-stroke:0.5px #1a1a1a">Preferences</div>
<div class="abs" style="left:885px;top:781px;width:87px;height:29px;border-radius:15px;border:1px solid #dadada;background:#f2f2f2"></div>
<div class="t" style="left:896px;top:789px;font-size:12.3px;color:#1a1a1a;font-weight:400;line-height:15px;-webkit-text-stroke:0.5px #1a1a1a">Remeasure</div>
<div class="abs" style="left:986px;top:781px;width:121px;height:29px;border-radius:15px;background:#000"></div>
<div class="t" style="left:997.5px;top:789px;font-size:12.6px;color:#fff;font-weight:400;line-height:15px;-webkit-text-stroke:0.45px #fff">Save and finish...</div>
</body></html>
